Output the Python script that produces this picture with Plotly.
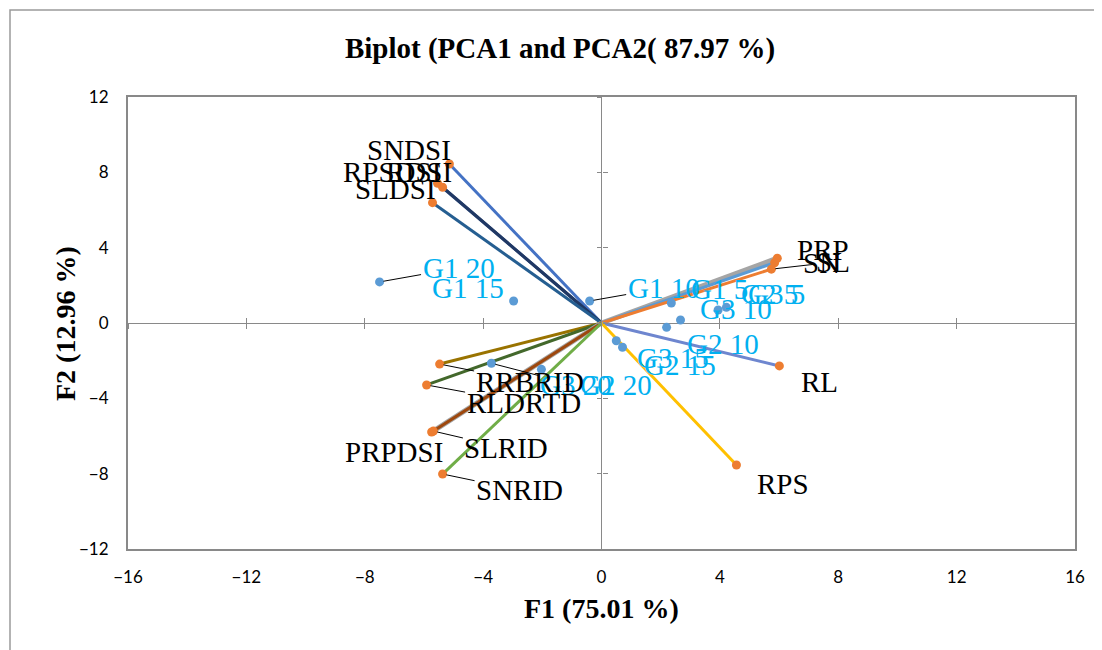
import plotly.graph_objects as go

# ---------------- data ----------------
obs_labels = ["G1 20", "G1 15", "G1 10", "G1 5", "G3 10", "G3 5", "G2 5", "G2 10",
              "G3 15", "G2 15", "G3 20", "G2 20"]
obs_f1 = [-7.50, -2.97, -0.40, 2.36, 3.94, 4.22, 2.67, 2.20, 0.50, 0.71, -3.72, -2.03]
obs_f2 = [2.18, 1.17, 1.17, 1.06, 0.69, 0.83, 0.16, -0.23, -0.94, -1.29, -2.14, -2.46]

var_labels = ["SNDSI", "RPSDSI", "RDSI", "SLDSI", "PRP", "SN", "SL", "RL", "RPS",
              "RRBRID", "RLDRTD", "PRPDSI", "SLRID", "SNRID"]
var_f1 = [-5.14, -5.54, -5.37, -5.71, 5.94, 5.85, 5.74, 6.01, 4.56,
          -5.47, -5.91, -5.74, -5.68, -5.37]
var_f2 = [8.44, 7.42, 7.21, 6.39, 3.44, 3.20, 2.86, -2.28, -7.54,
          -2.18, -3.29, -5.79, -5.74, -8.02]

x_ticks = [-16, -12, -8, -4, 0, 4, 8, 12, 16]
y_ticks = [-12, -8, -4, 0, 4, 8, 12]

title_text = "Biplot (PCA1 and PCA2( 87.97 %)"
x_title = "F1 (75.01 %)"
y_title = "F2 (12.96 %)"

# ---------------- styles ----------------
var_colors = {
    "SNDSI": "#4472C4", "RPSDSI": "#264478", "RDSI": "#203864", "SLDSI": "#255E91",
    "PRP": "#A5A5A5", "SN": "#5B9BD5", "SL": "#ED7D31", "RL": "#6E86CF",
    "RPS": "#FFC000", "RRBRID": "#997300", "RLDRTD": "#43682B",
    "PRPDSI": "#A5A5A5", "SLRID": "#9E480E", "SNRID": "#70AD47",
}
var_widths = {"PRP": 5, "PRPDSI": 5}
# label placement: (dx px, dy px down, leader line)
var_place = {
    "SNDSI": (-40, -14, False), "RPSDSI": (-46, -11, False), "RDSI": (-24, -15, False),
    "SLDSI": (-37, -14, False), "PRP": (46, -8, False), "SN": (47, 0, False),
    "SL": (62, -7, True), "RL": (40, 16, False), "RPS": (47, 19, False),
    "RRBRID": (90, 18, True), "RLDRTD": (97, 18, True), "PRPDSI": (-38, 20, False),
    "SLRID": (73, 17, True), "SNRID": (77, 16, True),
}
obs_place = {
    "G1 20": (79, -14, True), "G1 15": (-46, -13, False), "G1 10": (74, -13, True),
    "G1 5": (48, -14, False), "G3 10": (18, -1, False), "G3 5": (50, -13, False),
    "G2 5": (89, -26, False), "G2 10": (56, 17, False), "G3 15": (57, 17, False),
    "G2 15": (57, 18, False), "G3 20": (85, 22, True), "G2 20": (75, 16, False),
}

serif = "Liberation Serif"
label_size = 29
axis_gray = "#898989"
# page body margin offset (browser default 8px)
off = 8

fig = go.Figure()

# variable vectors
for lab, x, y in zip(var_labels, var_f1, var_f2):
    fig.add_trace(go.Scatter(
        x=[0, x], y=[0, y], mode="lines",
        line=dict(color=var_colors[lab], width=var_widths.get(lab, 3)),
        showlegend=False, hoverinfo="skip"))

# observations
fig.add_trace(go.Scatter(
    x=obs_f1, y=obs_f2, mode="markers",
    marker=dict(color="#5B9BD5", size=9), showlegend=False, name="obs"))

# variable end points
fig.add_trace(go.Scatter(
    x=var_f1, y=var_f2, mode="markers",
    marker=dict(color="#ED7D31", size=9), showlegend=False, name="vars"))

# dummy traces for the crossing tick axes
fig.add_trace(go.Scatter(x=[None], y=[None], xaxis="x2", yaxis="y2", showlegend=False))
fig.add_trace(go.Scatter(x=[None], y=[None], xaxis="x3", yaxis="y3", showlegend=False))

annotations = []


def add_label(text, x, y, place, color):
    dx, dy, leader = place
    if leader:
        annotations.append(dict(
            x=x, y=y, xref="x", yref="y", text=text, showarrow=True,
            arrowhead=0, arrowwidth=1, arrowcolor="#000000", ax=dx, ay=dy,
            standoff=4, font=dict(family=serif, size=label_size, color=color)))
    else:
        annotations.append(dict(
            x=x, y=y, xref="x", yref="y", text=text, showarrow=False,
            xshift=dx, yshift=-dy,
            font=dict(family=serif, size=label_size, color=color)))


for lab, x, y in zip(obs_labels, obs_f1, obs_f2):
    add_label(lab, x, y, obs_place[lab], "#00B0F0")
for lab, x, y in zip(var_labels, var_f1, var_f2):
    add_label(lab, x, y, var_place[lab], "#000000")

# axis titles
annotations.append(dict(text="<b>" + x_title + "</b>", xref="paper", yref="paper",
                        x=0.5, y=(549 - 608) / 452, yanchor="middle", showarrow=False,
                        font=dict(family=serif, size=28, color="#000000")))
annotations.append(dict(text="<b>" + y_title + "</b>", xref="paper", yref="paper",
                        x=(65 - 128) / 947, y=0.5, textangle=-90, showarrow=False,
                        xanchor="center", yanchor="middle",
                        font=dict(family=serif, size=28, color="#000000")))

tick_font = dict(family="Lato", size=17, color="#000000")

fig.update_layout(
    width=1102, height=650,
    margin=dict(l=128 - off, r=27 + off, t=97 - off, b=101 + off),
    paper_bgcolor="white", plot_bgcolor="white",
    title=dict(text="<b>" + title_text + "</b>", x=(560 - off) / 1102, xanchor="center",
               y=1 - (48 - off) / 650, yanchor="middle", xref="container", yref="container",
               font=dict(family=serif, size=29, color="#000000")),
    xaxis=dict(range=[-16, 16], tickvals=x_ticks, showgrid=False, automargin=False,
               zeroline=True, zerolinecolor=axis_gray, zerolinewidth=1,
               showline=True, mirror=True, linecolor=axis_gray, linewidth=2,
               ticks="", tickfont=tick_font, ticklabelstandoff=12),
    yaxis=dict(range=[-12, 12], tickvals=y_ticks, showgrid=False, automargin=False,
               zeroline=True, zerolinecolor=axis_gray, zerolinewidth=1,
               showline=True, mirror=True, linecolor=axis_gray, linewidth=2,
               ticks="", tickfont=tick_font, ticklabelstandoff=14),
    xaxis2=dict(range=[-16, 16], tickvals=x_ticks, overlaying="x", anchor="free",
                position=0.5, showgrid=False, zeroline=False, showline=False,
                ticks="outside", ticklen=5, tickcolor=axis_gray, showticklabels=False),
    yaxis2=dict(range=[-12, 12], tickvals=y_ticks, overlaying="y", anchor="free",
                position=0.5, showgrid=False, zeroline=False, showline=False,
                ticks="outside", ticklen=5, tickcolor=axis_gray, showticklabels=False),
    xaxis3=dict(range=[-16, 16], tickvals=x_ticks, overlaying="x", anchor="free",
                position=0.5, showgrid=False, zeroline=False, showline=False,
                ticks="inside", ticklen=5, tickcolor=axis_gray, showticklabels=False),
    yaxis3=dict(range=[-12, 12], tickvals=y_ticks, overlaying="y", anchor="free",
                position=0.5, showgrid=False, zeroline=False, showline=False,
                ticks="inside", ticklen=5, tickcolor=axis_gray, showticklabels=False),
    annotations=annotations,
    shapes=[dict(type="rect", xref="paper", yref="paper",
                 x0=(10 - 128) / 947, x1=1.1, y0=-0.4, y1=(549 - 10) / 452,
                 line=dict(color="#9a9a9a", width=1.5), layer="below")],
)

fig.write_html("out.html")
